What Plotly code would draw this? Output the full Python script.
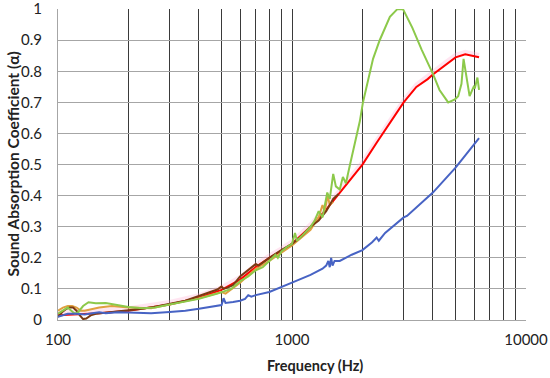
import plotly.graph_objects as go

# ---------------- data ----------------
red_f = [100, 150, 200, 300, 400, 500, 600, 700, 800, 900, 1000, 1200, 1400, 1600, 1800, 2000,
         2300, 2600, 3000, 3400, 3800, 4000, 4500, 5000, 5500, 6000, 6300]
red_v = [0.015, 0.022, 0.03, 0.05, 0.072, 0.097, 0.13, 0.17, 0.2, 0.222, 0.245, 0.30, 0.355, 0.41, 0.46, 0.50,
         0.57, 0.63, 0.70, 0.75, 0.775, 0.79, 0.82, 0.845, 0.855, 0.85, 0.845]

brown_f = [100, 104, 108, 112, 116, 120, 124, 128, 132, 138, 145, 155, 170, 185, 200, 230, 260, 300, 350,
           400, 450, 480, 500, 510, 530, 560, 600, 650, 700, 720, 750, 800, 900, 1000, 1100, 1200, 1300,
           1350, 1400, 1450, 1500, 1580]
brown_v = [0.01, 0.025, 0.035, 0.04, 0.04, 0.03, 0.015, 0.003, 0.005, 0.015, 0.02, 0.022, 0.025, 0.028,
           0.03, 0.036, 0.043, 0.052, 0.062, 0.077, 0.09, 0.098, 0.108, 0.1, 0.104, 0.112, 0.14, 0.16, 0.18,
           0.175, 0.185, 0.2, 0.225, 0.245, 0.27, 0.30, 0.32, 0.335, 0.35, 0.37, 0.39, 0.405]

orange_f = [100, 105, 110, 115, 120, 125, 130, 140, 150, 170, 200, 250, 300, 400, 500, 520, 600, 700, 800,
            1000, 1200, 1300, 1350, 1380, 1420, 1450, 1500]
orange_v = [0.03, 0.04, 0.045, 0.045, 0.04, 0.03, 0.03, 0.035, 0.04, 0.045, 0.04, 0.038, 0.05, 0.07, 0.09,
            0.085, 0.12, 0.165, 0.19, 0.24, 0.29, 0.33, 0.37, 0.35, 0.40, 0.37, 0.38]

green_f = [100, 105, 110, 114, 118, 122, 128, 135, 145, 160, 175, 200, 230, 260, 300, 400, 480, 500, 550,
           600, 650, 700, 750, 800, 850, 870, 900, 950, 1000, 1030, 1050, 1100, 1200, 1250, 1300, 1350,
           1415, 1450, 1500, 1540, 1600, 1650, 1700, 1770, 1860, 1950, 2010, 2110, 2220, 2370, 2620, 2820,
           2980, 3270, 3580, 4010, 4270, 4650, 4970, 5130, 5300, 5410, 5560, 5740, 5970, 6040, 6200, 6250,
           6300]
green_v = [0.02, 0.03, 0.04, 0.03, 0.02, 0.025, 0.045, 0.057, 0.054, 0.055, 0.05, 0.042, 0.038, 0.04, 0.05,
           0.068, 0.085, 0.09, 0.1, 0.125, 0.14, 0.16, 0.17, 0.19, 0.21, 0.2, 0.22, 0.235, 0.245, 0.28, 0.255,
           0.27, 0.30, 0.32, 0.35, 0.33, 0.41, 0.39, 0.47, 0.43, 0.42, 0.46, 0.44, 0.50, 0.57, 0.64, 0.70,
           0.77, 0.84, 0.90, 0.975, 1.0, 1.0, 0.94, 0.87, 0.79, 0.74, 0.70, 0.71, 0.72, 0.76, 0.84, 0.79,
           0.72, 0.75, 0.745, 0.78, 0.76, 0.74]

blue_f = [100, 105, 110, 120, 130, 140, 150, 160, 180, 200, 250, 300, 350, 400, 450, 500, 510, 520, 560,
          600, 630, 650, 670, 700, 800, 900, 1000, 1200, 1350, 1400, 1430, 1450, 1470, 1490, 1520, 1600,
          1800, 2000, 2200, 2300, 2350, 2500, 3000, 3100, 3500, 4000, 5000, 6300]
blue_v = [0.01, 0.015, 0.02, 0.02, 0.018, 0.022, 0.025, 0.022, 0.025, 0.024, 0.022, 0.026, 0.03, 0.036,
          0.042, 0.048, 0.07, 0.055, 0.058, 0.062, 0.068, 0.08, 0.075, 0.08, 0.09, 0.105, 0.12, 0.145,
          0.165, 0.175, 0.19, 0.17, 0.20, 0.175, 0.19, 0.19, 0.21, 0.225, 0.25, 0.265, 0.255, 0.28, 0.33,
          0.335, 0.37, 0.41, 0.49, 0.585]

x_ticks = [100, 1000, 10000]
x_labels = ["100", "1000", "10000"]
y_ticks = [0, 0.1, 0.2, 0.3, 0.4, 0.5, 0.6, 0.7, 0.8, 0.9, 1]
y_labels = ["0", "0.1", "0.2", "0.3", "0.4", "0.5", "0.6", "0.7", "0.8", "0.9", "1"]

FONT = "Lato"
TXT = "#222222"

fig = go.Figure()
fig.add_trace(go.Scatter(x=red_f, y=[v + 0.008 for v in red_v], mode="lines",
                         line=dict(color="rgba(255,170,210,0.3)", width=4), hoverinfo="skip"))
fig.add_trace(go.Scatter(x=red_f, y=red_v, mode="lines", line=dict(color="#ff0000", width=2)))
fig.add_trace(go.Scatter(x=orange_f, y=orange_v, mode="lines", line=dict(color="#e0a040", width=2)))
fig.add_trace(go.Scatter(x=brown_f, y=brown_v, mode="lines", line=dict(color="#7b3a12", width=2)))
fig.add_trace(go.Scatter(x=green_f, y=green_v, mode="lines", line=dict(color="#8cc94a", width=2)))
fig.add_trace(go.Scatter(x=blue_f, y=blue_v, mode="lines", line=dict(color="#4763c4", width=2)))

fig.update_layout(
    width=550, height=378,
    margin=dict(l=58, r=24, t=9, b=58, autoexpand=False),
    paper_bgcolor="white", plot_bgcolor="white",
    showlegend=False,
    font=dict(family=FONT, size=15, color=TXT),
    xaxis=dict(
        type="log", range=[2, 4], automargin=False,
        tickvals=x_ticks, ticktext=x_labels, ticklabeloverflow="allow",
        showgrid=True, gridcolor="#3a3a3a", gridwidth=1,
        minor=dict(dtick="D1", showgrid=True, gridcolor="#3a3a3a", gridwidth=1),
        showline=True, linecolor="#a6a6a6", linewidth=1,
        ticks="", ticklabelstandoff=6, zeroline=False,
        tickfont=dict(family=FONT, size=15, color=TXT),
    ),
    yaxis=dict(
        range=[0, 1.0005], automargin=False, tickvals=y_ticks, ticktext=y_labels,
        ticklabeloverflow="allow",
        showgrid=True, gridcolor="#a6a6a6", gridwidth=1,
        showline=True, linecolor="#a6a6a6", linewidth=1,
        ticks="", ticklabelstandoff=12, zeroline=False,
        tickfont=dict(family=FONT, size=15, color=TXT),
    ),
    annotations=[
        dict(text="<b>Frequency (Hz)</b>", xref="paper", yref="paper", x=0.5, y=0,
             xshift=23, yshift=-45, yanchor="middle", showarrow=False,
             font=dict(family=FONT, size=14.5, color=TXT)),
        dict(text="<b>Sound Absorption Coefficient (α)</b>", xref="paper", yref="paper", x=0, y=0.5,
             xshift=-46, xanchor="center", showarrow=False, textangle=-90,
             font=dict(family=FONT, size=15.5, color=TXT)),
    ],
)

fig.write_html("out.html", config={"displayModeBar": False},
               post_script="document.body.style.margin='0';document.body.style.padding='0';")
